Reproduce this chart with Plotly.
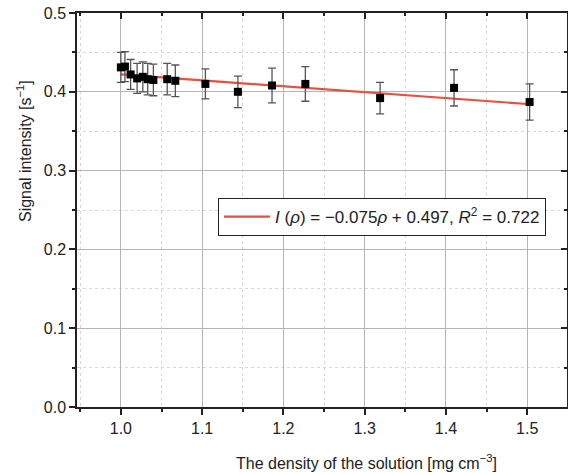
import plotly.graph_objects as go

density = [1.000, 1.005, 1.012, 1.020, 1.027, 1.033, 1.040, 1.057, 1.067,
           1.104, 1.144, 1.186, 1.227, 1.319, 1.410, 1.503]
signal = [0.431, 0.432, 0.422, 0.417, 0.419, 0.416, 0.415, 0.416, 0.414,
          0.410, 0.400, 0.408, 0.410, 0.392, 0.405, 0.387]
signal_err = [0.019, 0.019, 0.019, 0.019, 0.019, 0.020, 0.020, 0.020, 0.020,
              0.019, 0.020, 0.022, 0.022, 0.020, 0.023, 0.023]

fit_slope = -0.075
fit_intercept = 0.497
fit_x = [1.0, 1.5]
fit_y = [fit_slope * v + fit_intercept for v in fit_x]

x_ticks = [1.0, 1.1, 1.2, 1.3, 1.4, 1.5]
y_ticks = [0.0, 0.1, 0.2, 0.3, 0.4, 0.5]

FONT = "Liberation Sans, Arial, sans-serif"
TXT = "#222222"

fig = go.Figure()
fig.add_trace(go.Scatter(
    x=fit_x, y=fit_y, mode="lines",
    line=dict(color="#e5503f", width=2.2),
    name="<i>I</i> (<i>ρ</i>) = −0.075<i>ρ</i> + 0.497, <i>R</i><sup>2</sup> = 0.722",
    showlegend=True,
))
fig.add_trace(go.Scatter(
    x=density, y=signal, mode="markers",
    marker=dict(symbol="square", size=8, color="black"),
    error_y=dict(type="data", array=signal_err, color="#555555", thickness=1.3, width=4),
    showlegend=False,
))
# invisible trace to instantiate mirrored axes
fig.add_trace(go.Scatter(x=[1.0], y=[0.0], xaxis="x2", yaxis="y2",
                         mode="markers", marker=dict(opacity=0), showlegend=False,
                         hoverinfo="skip"))

xr = [0.946, 1.549]
yr = [0.0, 0.5]
common = dict(showline=True, linecolor=TXT, linewidth=1.5, zeroline=False,
              tickwidth=1.5, tickcolor=TXT, automargin=False)
fig.update_layout(
    width=568, height=475,
    margin=dict(l=77, r=1, t=13, b=68),
    paper_bgcolor="white", plot_bgcolor="white",
    font=dict(family=FONT, size=16, color=TXT),
    xaxis=dict(
        range=xr, tickvals=x_ticks, ticktext=[f"{v:.1f}" for v in x_ticks],
        ticks="outside", ticklen=6,
        showgrid=True, gridcolor="#b5b5b5", gridwidth=1,
        minor=dict(dtick=0.05, tick0=1.0, ticks="outside", ticklen=3, tickcolor=TXT,
                   showgrid=True, gridcolor="#d8d8d8", griddash="dot"),
        tickfont=dict(size=16),
        **common,
    ),
    yaxis=dict(
        range=yr, tickvals=y_ticks, ticktext=[f"{v:.1f}" for v in y_ticks],
        ticks="outside", ticklen=6,
        showgrid=True, gridcolor="#b5b5b5", gridwidth=1,
        minor=dict(dtick=0.05, tick0=0.0, ticks="outside", ticklen=3, tickcolor=TXT,
                   showgrid=True, gridcolor="#d8d8d8", griddash="dot"),
        tickfont=dict(size=16),
        **common,
    ),
    xaxis2=dict(
        range=xr, overlaying="x", side="top", anchor="y",
        tickvals=x_ticks, showticklabels=False,
        ticks="inside", ticklen=6, showgrid=False,
        minor=dict(dtick=0.05, tick0=1.0, ticks="inside", ticklen=3, tickcolor=TXT, showgrid=False),
        **common,
    ),
    yaxis2=dict(
        range=yr, overlaying="y", side="right", anchor="x",
        tickvals=y_ticks, showticklabels=False,
        ticks="inside", ticklen=6, showgrid=False,
        minor=dict(dtick=0.05, tick0=0.0, ticks="inside", ticklen=3, tickcolor=TXT, showgrid=False),
        **common,
    ),
    legend=dict(
        x=(218 - 77) / 490, y=(407 - 198) / 394, xanchor="left", yanchor="top",
        bgcolor="white", bordercolor=TXT, borderwidth=1,
        font=dict(size=17, family=FONT, color=TXT),
        itemwidth=46,
    ),
    annotations=[
        dict(text="Signal intensity [s<sup>−1</sup>]", textangle=-90,
             xref="paper", yref="paper", x=(24 - 77) / 490, y=(407 - 151) / 394,
             xanchor="center", yanchor="middle", showarrow=False, font=dict(size=16)),
        dict(text="The density of the solution [mg cm<sup>−3</sup>]",
             xref="paper", yref="paper", x=(366 - 77) / 490, y=-(462 - 407) / 394,
             xanchor="center", yanchor="middle", showarrow=False, font=dict(size=16)),
    ],
)

fig.write_html(
    "out.html",
    config={"displayModeBar": False},
    post_script="document.body.style.margin='0';document.body.style.overflow='hidden';",
)
